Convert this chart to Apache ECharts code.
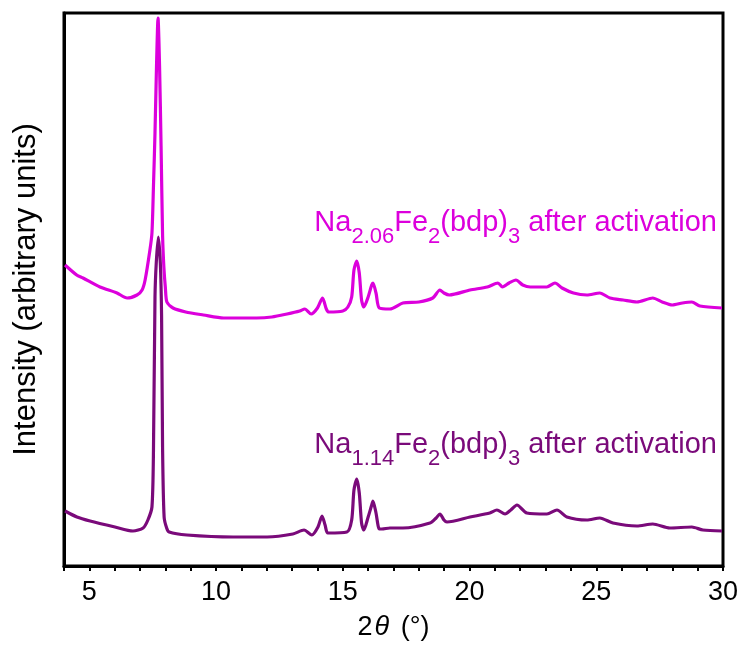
<!DOCTYPE html>
<html>
<head>
<meta charset="utf-8">
<script src="https://cdn.jsdelivr.net/npm/echarts@6/dist/echarts.min.js"></script>
<style>
html,body{margin:0;padding:0;background:#fff;}
#c{width:743px;height:647px;}
</style>
</head>
<body>
<div id="c"></div>
<script>
// 2θ (degrees) and intensity (arbitrary units)
const magentaX = [4.04,4.5,4.75,5.42,6.09,6.49,6.88,7.08,7.2,7.39,7.47,7.53,7.59,7.65,7.71,7.77,7.83,7.89,7.94,8.0,8.06,8.3,8.8,9.5,10.3,11.0,11.6,12.2,12.8,13.3,13.5,13.75,14.0,14.2,14.35,14.45,15.0,15.2,15.35,15.44,15.55,15.65,15.74,15.83,16.0,16.14,16.19,16.31,16.44,16.86,17.37,18.0,18.55,18.83,18.99,19.2,20.02,20.7,21.12,21.3,21.56,21.83,22.1,22.4,23.05,23.37,23.65,24.1,24.63,25.14,25.54,26.06,26.6,27.23,27.6,28.0,28.4,28.77,29.09,29.96];
const magentaY = [301,291,288,279,273,268,271,276,286,316,333,380,433,500,548,500,420,330,299,278,264,258,254,251,248,248,248,249,252,255,257,252,258,268,257,254,255,259,269,296,305,293,266,259,269,281,283,273,258,257,263,264,268,276,273,271,276,279,283,279,283,286,281,279,279,283,278,273,271,273,268,266,264,268,264,261,263,264,260,258];

const purpleX = [4.04,4.51,5.03,6.01,6.72,7.12,7.31,7.47,7.53,7.59,7.64,7.72,7.8,7.85,7.89,7.95,8.05,8.15,8.85,10.67,12.01,13.03,13.47,13.78,14.02,14.18,14.3,14.41,15.16,15.35,15.44,15.55,15.65,15.74,15.83,16.0,16.14,16.19,16.31,16.44,16.54,16.86,17.37,18.44,18.68,18.83,18.99,19.11,20.02,20.8,21.08,21.4,21.63,21.87,22.26,23.05,23.45,23.84,24.63,25.14,25.66,26.6,27.23,27.9,28.77,29.21,29.96];
const purpleY = [55,49,45,39,35,38,46,59,116,269,303,329,303,250,116,49,38,34,31,29,29,32,36,31,39,50,41,33,34,46,76,87,73,43,36,49,61,65,53,37,37,38,38,43,48,52,46,44,49,53,56,52,56,61,53,52,56,49,46,48,43,40,42,38,39,36,35];

const xTicks = [5,10,15,20,25,30];
const magentaLabel = ['Na','2.06','Fe','2','(bdp)','3',' after activation'];
const purpleLabel = ['Na','1.14','Fe','2','(bdp)','3',' after activation'];

const MAG = '#dc00dc', PUR = '#7a0a7a';
const FONT = 'Liberation Sans, Arial, Helvetica, sans-serif';

function zip(xs, ys){ return xs.map((x,i)=>[x, ys[i]]); }

const chart = echarts.init(document.getElementById('c'), null, {renderer:'canvas'});
const option = {
  animation: false,
  backgroundColor: '#fff',
  grid: {left: 64, right: 20, top: 13, bottom: 81, show: true, borderColor: '#000', borderWidth: 3, containLabel: false},
  xAxis: {
    type: 'value', min: 4, max: 30, interval: 1,
    axisLine: {show: true, lineStyle: {color: '#000', width: 3}},
    axisTick: {show: true, inside: false, length: 5, lineStyle: {color: '#000', width: 2}},
    axisLabel: {show: true, margin: 13, color: '#000', fontSize: 27, fontFamily: FONT,
      showMinLabel: true, showMaxLabel: true,
      formatter: v => xTicks.indexOf(v) >= 0 ? String(v) : ''},
    splitLine: {show: false},
    name: '{n|2}{i|θ}{n| (°)}', nameLocation: 'middle', nameGap: 48,
    nameTextStyle: {color: '#000', fontFamily: FONT, fontSize: 27,
      rich: {n: {fontSize: 27, fontFamily: FONT, color: '#000'}, i: {fontSize: 27, fontFamily: FONT, fontStyle: 'italic', color: '#000', padding: [0,4,0,2]}}}
  },
  yAxis: {
    type: 'value', min: 0, max: 553,
    axisLine: {show: true, lineStyle: {color: '#000', width: 3}},
    axisTick: {show: false}, axisLabel: {show: false}, splitLine: {show: false},
    name: 'Intensity (arbitrary units)', nameLocation: 'middle', nameGap: 22,
    nameTextStyle: {color: '#000', fontFamily: FONT, fontSize: 31}
  },
  series: [
    {type: 'line', data: zip(magentaX, magentaY), showSymbol: false, symbol: 'none', smooth: 0.25,
      lineStyle: {color: MAG, width: 3.2}, itemStyle: {color: MAG}},
    {type: 'line', data: zip(purpleX, purpleY), showSymbol: false, symbol: 'none', smooth: 0.25,
      lineStyle: {color: PUR, width: 3.2}, itemStyle: {color: PUR}}
  ]
};
chart.setOption(option);

function richLabel(parts, color){
  const keys = ['m','s','m','s','m','s','m'];
  const text = parts.map((p,i)=>'{' + keys[i] + '|' + p + '}').join('');
  return {
    text: text,
    align: 'right', verticalAlign: 'top',
    fill: color,
    rich: {
      m: {fontSize: 29, fontFamily: FONT, fill: color, color: color, lineHeight: 50, verticalAlign: 'middle'},
      s: {fontSize: 22, fontFamily: FONT, fill: color, color: color, lineHeight: 22, verticalAlign: 'bottom'}
    }
  };
}
const pM = chart.convertToPixel({gridIndex: 0}, [29.76, 333]);
const pP = chart.convertToPixel({gridIndex: 0}, [29.76, 111]);
chart.setOption({
  graphic: [
    {type: 'text', x: pM[0], y: pM[1] - 35, z: 100, style: richLabel(magentaLabel, MAG)},
    {type: 'text', x: pP[0], y: pP[1] - 35, z: 100, style: richLabel(purpleLabel, PUR)}
  ]
});
</script>
</body>
</html>
